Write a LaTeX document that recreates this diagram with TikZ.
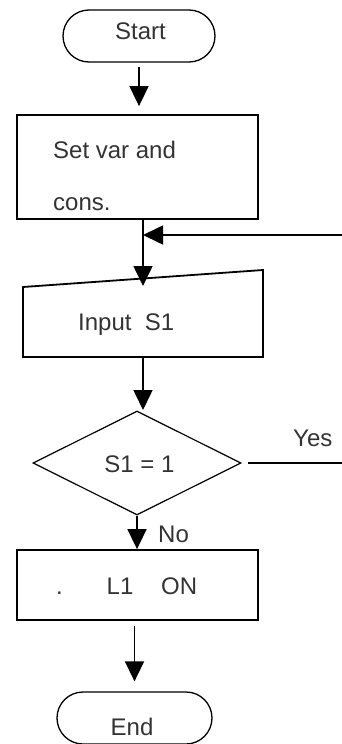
\documentclass[tikz,border=0pt]{standalone}
\usepackage{fontspec}
\setmainfont{Liberation Sans}
\usetikzlibrary{arrows.meta,shapes.geometric}
\begin{document}
\begin{tikzpicture}[x=1pt,y=-1pt,
  >={Triangle[length=20pt,width=19pt]},
  lbl/.style={font=\fontsize{24}{28}\selectfont, text=black!80, inner sep=0pt},
  terminal/.style={draw, rectangle, rounded corners=26pt, minimum height=52pt,
                   inner sep=0pt, line width=1.3pt},
  procbox/.style={draw, rectangle, inner sep=0pt, line width=1.8pt},
  decision/.style={draw, diamond, minimum width=208pt, minimum height=104pt,
                   inner sep=0pt, line width=1.2pt},
  flow/.style={->, line width=1.6pt},
  plain/.style={line width=1.2pt}]
\useasboundingbox (0,0) rectangle (342,744);

% Start terminal
\node[terminal, minimum width=152pt] (start) at (139,36) {};
\node[lbl, anchor=base] (startT) at (140.5,39.3) {Start};

% Initialisation box
\node[procbox, minimum width=241pt, minimum height=104pt] (setbox) at (137.5,167) {};
\node[lbl, anchor=base west] (setT1) at (53,158) {Set var and};
\node[lbl, anchor=base west] (setT2) at (53,210) {cons.};

% Input parallelogram
\coordinate (inTL) at (23,287);
\coordinate (inTR) at (263,270);
\coordinate (inBR) at (263,357);
\coordinate (inBL) at (23,357);
\draw[line width=1.8pt, line join=miter] (inTL) -- (inTR) -- (inBR) -- (inBL) -- cycle;
\node[lbl, anchor=base west] (inT) at (78,330) {Input~~S1};
\coordinate (inTop) at (143,286);
\coordinate (inBot) at (143,357);

% Decision
\node[decision] (dec) at (137,463) {};
\node[lbl, anchor=base] (decT) at (139.5,472) {S1 = 1};

% Output box
\node[procbox, minimum width=241pt, minimum height=70pt] (outbox) at (137.5,585) {};
\node[lbl, anchor=base west] (outDot) at (56,594) {.};
\node[lbl, anchor=base west] (outL) at (106.5,594) {L1};
\node[lbl, anchor=base west] (outOn) at (161,594) {ON};

% End terminal
\node[terminal, minimum width=155pt] (end) at (134.5,718) {};
\node[lbl, anchor=base] (endT) at (132,735) {End};

% Connectors
\draw[flow, shorten <=4pt, shorten >=8pt] (start.south) -- (start.south |- setbox.north);
\coordinate (setOut) at (143,219);
\draw[flow] (setOut) -- (inTop);
\coordinate (loopIn) at (342,235);
\draw[flow] (loopIn) -- (setOut |- loopIn);
\coordinate (decTopIn) at (143,410);
\draw[flow] (inBot) -- (decTopIn);
\draw[flow] (dec.south) -- (dec.south |- outbox.north);
\node[lbl, anchor=base west] (noT) at (158,542) {No};
\coordinate (yesEnd) at (342,463);
\draw[plain, shorten <=6pt] (dec.east) -- (yesEnd);
\node[lbl, anchor=base west] (yesT) at (293,446) {Yes};
\draw[flow, shorten <=5pt, shorten >=10pt] (outbox.south -| end.north) -- (end.north);
\end{tikzpicture}
\end{document}
